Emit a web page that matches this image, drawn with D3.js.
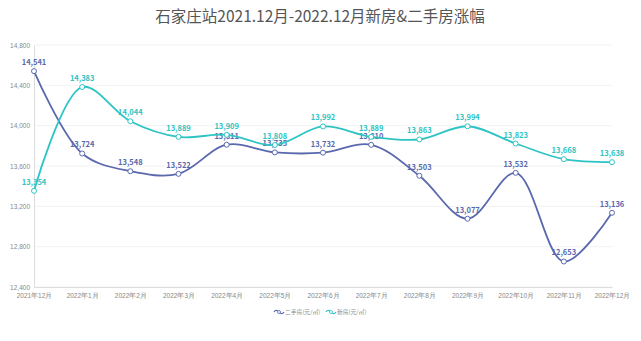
<!DOCTYPE html>
<html>
<head>
<meta charset="utf-8">
<script src="https://cdn.jsdelivr.net/npm/d3@7/dist/d3.min.js"></script>
<style>
  html, body { margin: 0; padding: 0; background: #fff; }
  svg { display: block; font-family: "Noto Sans CJK SC", "Noto Sans", sans-serif; }
</style>
</head>
<body>
<svg id="chart" width="641" height="341"></svg>
<script>
// Monthly average prices, Shijiazhuang
const months = ["2021年12月", "2022年1月", "2022年2月", "2022年3月", "2022年4月", "2022年5月",
  "2022年6月", "2022年7月", "2022年8月", "2022年9月", "2022年10月", "2022年11月", "2022年12月"];
const resale = [14541, 13724, 13548, 13522, 13811, 13735, 13732, 13810, 13503, 13077, 13532, 12653, 13136];
const newHomes = [13354, 14383, 14044, 13889, 13909, 13808, 13992, 13889, 13863, 13994, 13823, 13668, 13638];
const yTicks = [12400, 12800, 13200, 13600, 14000, 14400, 14800];
const seriesNames = ["二手房(元/㎡)", "新房(元/㎡)"];

const svg = d3.select("#chart");
const W = 641, H = 341;
const m = { left: 34, right: 29, top: 45, bottom: 54 };

const x = d3.scalePoint().domain(months).range([m.left, W - m.right]);
const y = d3.scaleLinear().domain([12400, 14800]).range([H - m.bottom, m.top]);

const colors = ["#5a68ad", "#2ec4c4"];

// title
svg.append("text")
  .attr("x", 320).attr("y", 22)
  .attr("text-anchor", "middle")
  .attr("font-size", 15.5)
  .attr("fill", "#555")
  .text("石家庄站2021.12月-2022.12月新房&二手房涨幅");

// grid
svg.append("g").selectAll("line").data(yTicks).join("line")
  .attr("x1", m.left).attr("x2", W - m.right)
  .attr("y1", d => y(d)).attr("y2", d => y(d))
  .attr("stroke", "#f2f2f2").attr("stroke-width", 1);

// y axis
const yAxis = svg.append("g").attr("transform", `translate(${m.left},0)`)
  .call(d3.axisLeft(y).tickValues(yTicks).tickFormat(d3.format(",")).tickSize(0).tickPadding(4));
yAxis.select(".domain").attr("stroke", "#ddd");
yAxis.selectAll("text").attr("font-size", 6.5).attr("fill", "#888");

// x axis
const xAxis = svg.append("g").attr("transform", `translate(0,${H - m.bottom})`)
  .call(d3.axisBottom(x).tickSize(0).tickPadding(6));
xAxis.select(".domain").attr("stroke", "#ddd");
xAxis.selectAll("text").attr("font-size", 6.5).attr("fill", "#888");

const line = d3.line()
  .x((d, i) => x(months[i]))
  .y(d => y(d))
  .curve(d3.curveCatmullRom.alpha(0.5));

const series = [resale, newHomes];
series.forEach((vals, si) => {
  const g = svg.append("g");
  g.append("path").datum(vals)
    .attr("d", line)
    .attr("fill", "none")
    .attr("stroke", colors[si])
    .attr("stroke-width", 1.8);
  g.selectAll("circle").data(vals).join("circle")
    .attr("cx", (d, i) => x(months[i]))
    .attr("cy", d => y(d))
    .attr("r", 2.5)
    .attr("fill", "#fff")
    .attr("stroke", colors[si])
    .attr("stroke-width", 1);
  g.selectAll("text").data(vals).join("text")
    .attr("x", (d, i) => x(months[i]))
    .attr("y", d => y(d) - 6)
    .attr("text-anchor", "middle")
    .attr("font-size", 7.5)
    .attr("font-weight", "bold")
    .attr("fill", colors[si])
    .text(d => d3.format(",")(d));
});

// legend
const legend = svg.append("g").attr("transform", "translate(274,312)");
const legendX = [0, 52];
seriesNames.forEach((name, i) => {
  const lg = legend.append("g").attr("transform", `translate(${legendX[i]},0)`);
  lg.append("path")
    .attr("d", "M0,0 C2,-3 4,-1 5,0 S8,3 10,0")
    .attr("fill", "none").attr("stroke", colors[i]).attr("stroke-width", 1.2);
  lg.append("circle").attr("cx", 5).attr("cy", 0).attr("r", 1.5)
    .attr("fill", "#fff").attr("stroke", colors[i]).attr("stroke-width", 0.8);
  lg.append("text").attr("x", 11).attr("y", 2.2)
    .attr("font-size", 5.8).attr("fill", "#888").text(name);
});
</script>
</body>
</html>
